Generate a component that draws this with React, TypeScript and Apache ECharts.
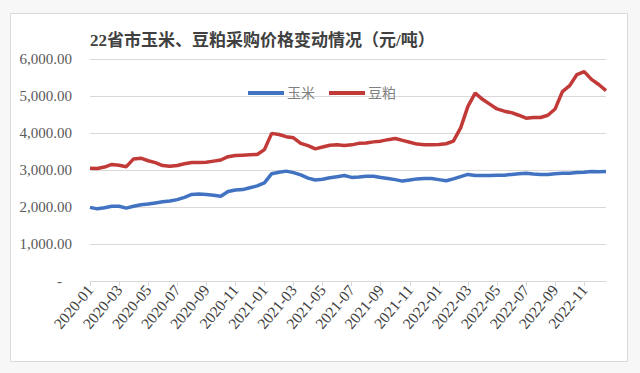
import React, { useEffect, useRef } from "react";
import * as echarts from "echarts";

const months = [
  "2020-01", "2020-02", "2020-03", "2020-04", "2020-05", "2020-06",
  "2020-07", "2020-08", "2020-09", "2020-10", "2020-11", "2020-12",
  "2021-01", "2021-02", "2021-03", "2021-04", "2021-05", "2021-06",
  "2021-07", "2021-08", "2021-09", "2021-10", "2021-11", "2021-12",
  "2022-01", "2022-02", "2022-03", "2022-04", "2022-05", "2022-06",
  "2022-07", "2022-08", "2022-09", "2022-10", "2022-11", "2022-12",
];
const halfDays = ["01", "16"];
const categories = months.flatMap((m) => halfDays.map((d) => `${m}-${d}`));

const seriesNames = ["玉米", "豆粕"];

const cornPrice = [
  1990, 1950, 1980, 2020, 2020, 1970, 2020, 2060, 2080, 2110, 2140, 2160,
  2200, 2260, 2340, 2350, 2340, 2320, 2290, 2420, 2460, 2470, 2520, 2570,
  2650, 2900, 2940, 2970, 2930, 2870, 2780, 2730, 2750, 2790, 2820, 2850,
  2800, 2810, 2830, 2830, 2800, 2770, 2740, 2700, 2730, 2760, 2770, 2770,
  2740, 2710, 2760, 2820, 2880, 2850, 2850, 2850, 2860, 2860, 2880, 2900,
  2910, 2890, 2880, 2880, 2900, 2910, 2910, 2930, 2940, 2960, 2950, 2960,
];

const soyMealPrice = [
  3050, 3040, 3080, 3150, 3130, 3090, 3300, 3320, 3250, 3200, 3120, 3100,
  3120, 3170, 3200, 3200, 3210, 3240, 3270, 3360, 3390, 3400, 3410, 3420,
  3550, 3990, 3960, 3900, 3870, 3720, 3660, 3570, 3620, 3670, 3680, 3660,
  3680, 3720, 3730, 3760, 3780, 3820, 3850, 3800, 3750, 3700, 3680, 3680,
  3690, 3710, 3780, 4140, 4720, 5080, 4910, 4780, 4650, 4590, 4550, 4480,
  4400, 4420, 4420, 4480, 4650, 5120, 5280, 5580, 5660, 5450, 5310, 5145,
];

const yTicks = [0, 1000, 2000, 3000, 4000, 5000, 6000];

const titleText = "22省市玉米、豆粕采购价格变动情况（元/吨）";

const serif = "'Liberation Serif', 'Times New Roman', 'Noto Sans CJK SC', serif";

export default function App() {
  const ref = useRef<HTMLDivElement>(null);

  useEffect(() => {
    if (!ref.current) return;
    const chart = echarts.init(ref.current, null, { renderer: "svg" });
    const showEvery = (index: number) => index % 4 === 0;
    chart.setOption({
      animation: false,
      backgroundColor: "#f7f7f7",
      graphic: [
        {
          type: "rect",
          shape: { x: 10.5, y: 13.5, width: 617, height: 348 },
          style: { fill: "#ffffff", stroke: "#d9d9d9", lineWidth: 1 },
          z: -10,
        },
      ],
      title: {
        text: titleText,
        left: 85,
        top: 27,
        textStyle: {
          fontFamily: serif,
          fontSize: 17,
          fontWeight: "bold",
          color: "#404040",
        },
      },
      legend: {
        data: seriesNames,
        left: 243,
        top: 81,
        icon: "rect",
        itemWidth: 36,
        itemHeight: 4,
        itemGap: 14,
        textStyle: {
          fontFamily: serif,
          fontSize: 14,
          color: "#7f7f7f",
          padding: [0, 0, 0, -2],
        },
      },
      grid: {
        left: 90,
        right: 34,
        top: 59,
        bottom: 92,
        containLabel: false,
      },
      xAxis: {
        type: "category",
        data: categories,
        boundaryGap: false,
        axisLine: { lineStyle: { color: "#d9d9d9", width: 1 } },
        axisTick: {
          show: true,
          interval: (index: number) => showEvery(index),
          length: 5,
          lineStyle: { color: "#d9d9d9" },
        },
        axisLabel: {
          interval: (index: number) => showEvery(index),
          rotate: 50,
          margin: 6,
          formatter: (v: string) => v.slice(0, 7),
          fontFamily: serif,
          fontSize: 15.5,
          color: "#404040",
        },
        splitLine: { show: false },
      },
      yAxis: {
        type: "value",
        min: yTicks[0],
        max: yTicks[yTicks.length - 1],
        interval: 1000,
        axisLine: { show: false },
        axisTick: { show: false },
        axisLabel: {
          margin: 18,
          fontFamily: serif,
          fontSize: 15,
          color: "#595959",
          formatter: (v: number) =>
            v === 0
              ? "{d|-}"
              : v.toLocaleString("en-US", {
                  minimumFractionDigits: 2,
                  maximumFractionDigits: 2,
                }),
          rich: {
            d: {
              fontFamily: serif,
              fontSize: 15,
              color: "#595959",
              padding: [0, 10, 0, 0],
            },
          },
        },
        splitLine: { lineStyle: { color: "#d9d9d9", width: 1 } },
      },
      series: [
        {
          name: seriesNames[0],
          type: "line",
          data: cornPrice,
          showSymbol: false,
          symbol: "none",
          lineStyle: { color: "#4273c2", width: 3.5 },
          itemStyle: { color: "#4273c2" },
        },
        {
          name: seriesNames[1],
          type: "line",
          data: soyMealPrice,
          showSymbol: false,
          symbol: "none",
          lineStyle: { color: "#c23a38", width: 3.5 },
          itemStyle: { color: "#c23a38" },
        },
      ],
    });
    return () => chart.dispose();
  }, []);

  return (
    <div
      ref={ref}
      style={{ position: "fixed", left: 0, top: 0, width: 640, height: 373 }}
    />
  );
}
